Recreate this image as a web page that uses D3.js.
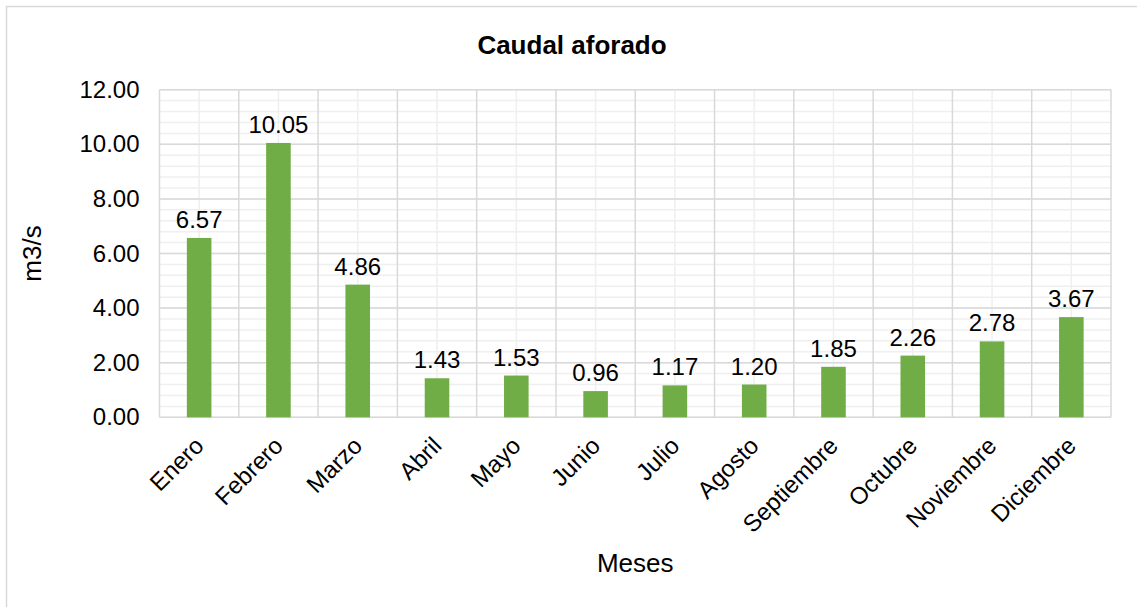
<!DOCTYPE html>
<html>
<head>
<meta charset="utf-8">
<script src="https://cdn.jsdelivr.net/npm/d3@7"></script>
<style>
html,body{margin:0;padding:0;background:#fff;}
svg{display:block;font-family:"Liberation Sans",Arial,sans-serif;}
</style>
</head>
<body>
<svg id="chart" width="1137" height="607"></svg>
<script>
const categories = ["Enero","Febrero","Marzo","Abril","Mayo","Junio","Julio","Agosto","Septiembre","Octubre","Noviembre","Diciembre"];
const values = [6.57,10.05,4.86,1.43,1.53,0.96,1.17,1.20,1.85,2.26,2.78,3.67];
const yTicks = [0,2,4,6,8,10,12];
const title = "Caudal aforado";
const xTitle = "Meses";
const yTitle = "m3/s";

const svg = d3.select("#chart");
const W = 1137, H = 607;
const m = {left:159.5, right:1111, top:89.7, bottom:417.3};
const FS = 24;

svg.append("rect").attr("x",6.5).attr("y",6.5).attr("width",W+10).attr("height",H+10)
  .attr("fill","#fff").attr("stroke","#d9d9d9").attr("stroke-width",1.5);

const x = d3.scaleBand().domain(categories).range([m.left,m.right]).paddingInner(0).paddingOuter(0);
const y = d3.scaleLinear().domain([0,12]).range([m.bottom,m.top]);

// minor horizontal grid
const minor = d3.range(0,12.001,0.4);
svg.append("g").selectAll("line").data(minor).join("line")
  .attr("x1",m.left).attr("x2",m.right)
  .attr("y1",d=>y(d)).attr("y2",d=>y(d))
  .attr("stroke","#efefef").attr("stroke-width",1.5);
// minor vertical grid at category centers
svg.append("g").selectAll("line").data(categories).join("line")
  .attr("x1",d=>x(d)+x.bandwidth()/2).attr("x2",d=>x(d)+x.bandwidth()/2)
  .attr("y1",m.top).attr("y2",m.bottom)
  .attr("stroke","#efefef").attr("stroke-width",1.5);
// major horizontal grid
svg.append("g").selectAll("line").data(yTicks).join("line")
  .attr("x1",m.left).attr("x2",m.right)
  .attr("y1",d=>y(d)).attr("y2",d=>y(d))
  .attr("stroke","#d9d9d9").attr("stroke-width",1.5);
// major vertical grid at category boundaries
const bounds = categories.map(c=>x(c)).concat([m.right]);
svg.append("g").selectAll("line").data(bounds).join("line")
  .attr("x1",d=>d).attr("x2",d=>d)
  .attr("y1",m.top).attr("y2",m.bottom)
  .attr("stroke","#d9d9d9").attr("stroke-width",1.5);

// bars
const bw = x.bandwidth()*0.31;
svg.append("g").selectAll("rect").data(values).join("rect")
  .attr("x",(d,i)=>x(categories[i])+x.bandwidth()/2-bw/2)
  .attr("y",d=>y(d))
  .attr("width",bw)
  .attr("height",d=>y(0)-y(d))
  .attr("fill","#70ad47");

// data labels
svg.append("g").selectAll("text").data(values).join("text")
  .attr("x",(d,i)=>x(categories[i])+x.bandwidth()/2)
  .attr("y",d=>y(d)-10)
  .attr("text-anchor","middle")
  .attr("font-size",FS)
  .attr("fill","#000")
  .text(d=>d.toFixed(2));

// y axis
const yAxis = d3.axisLeft(y).tickValues(yTicks).tickFormat(d3.format(".2f")).tickSize(0).tickPadding(20);
const gy = svg.append("g").attr("transform",`translate(${m.left},0)`).call(yAxis);
gy.select(".domain").remove();
gy.selectAll("text").attr("font-size",FS).attr("fill","#000").attr("font-family","Liberation Sans, Arial, sans-serif");

// x axis
const xAxis = d3.axisBottom(x).tickSize(0).tickPadding(0);
const gx = svg.append("g").attr("transform",`translate(0,${m.bottom})`).call(xAxis);
gx.select(".domain").remove();
gx.selectAll("text")
  .attr("font-size",FS).attr("fill","#000").attr("font-family","Liberation Sans, Arial, sans-serif")
  .attr("text-anchor","end").attr("dy",null).attr("y",0)
  .attr("transform","translate(6,30) rotate(-45)");

// titles
svg.append("text").attr("x",572).attr("y",54).attr("text-anchor","middle")
  .attr("font-size",26).attr("font-weight","bold").attr("fill","#000").text(title);
svg.append("text").attr("x",(m.left+m.right)/2).attr("y",572).attr("text-anchor","middle")
  .attr("font-size",26).attr("fill","#000").text(xTitle);
svg.append("text").attr("transform",`translate(41,${(m.top+m.bottom)/2}) rotate(-90)`)
  .attr("text-anchor","middle").attr("font-size",26).attr("fill","#000").text(yTitle);
</script>
</body>
</html>
